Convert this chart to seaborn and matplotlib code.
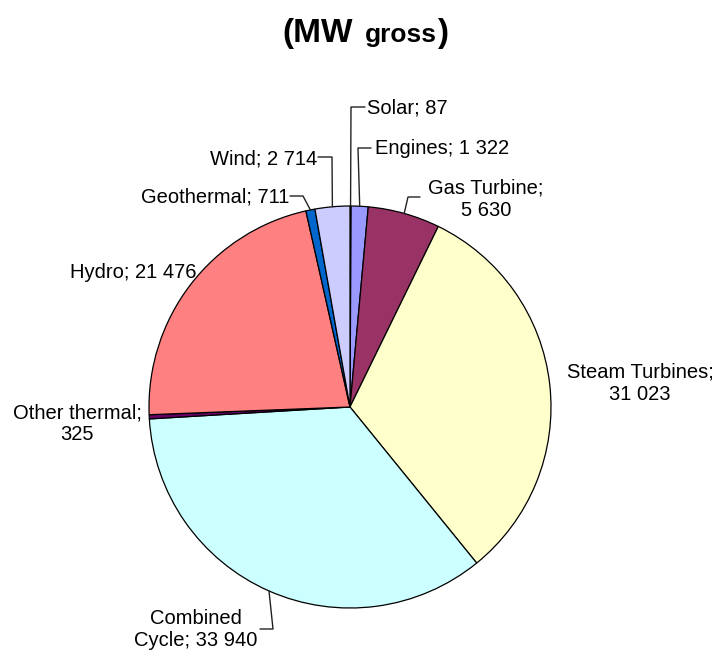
import numpy as np
import matplotlib
matplotlib.use("Agg")
import matplotlib.pyplot as plt
import seaborn as sns

# Datos (MW brutos), en el orden horario desde arriba
categories = ["Solar", "Engines", "Gas Turbine", "Steam Turbines", "Combined Cycle",
              "Other thermal", "Hydro", "Geothermal", "Wind"]
values = [87, 1322, 5630, 31023, 33940, 325, 21476, 711, 2714]
colors = ["#333399", "#9999FF", "#993366", "#FFFFCC", "#CCFFFF",
          "#660066", "#FF8080", "#0066CC", "#CCCCFF"]

# Texto de las etiquetas (con saltos de línea como en el original)
label_text = ["Solar; {}", "Engines; {}", "Gas Turbine;\n{}", "Steam Turbines;\n{}",
              "Combined\nCycle; {}", "Other thermal;\n{}", "Hydro; {}",
              "Geothermal; {}", "Wind; {}"]

# Posición de las etiquetas en píxeles (x, y, ha) y codo de la línea guía
label_pos = [(367, 108, "left"), (375, 148, "left"), (486, 199, "center"),
             (640, 383, "center"), (196, 630, "center"), (77, 424, "center"),
             (196, 272, "right"), (289, 197, "right"), (317, 159, "right")]
leader = [[(351, 107), (365, 107)], [(358, 148), (371, 148)], [(408, 197), (420, 197)],
          None, [(273, 629), (260, 629)], None, None,
          [(303, 196), (290, 196)], [(332, 157), (318, 157)]]

W, H = 719, 652
CX, CY, R = 350, 407, 201

sns.set_style("white")
plt.rcParams['font.family'] = ['Liberation Sans', 'DejaVu Sans']
plt.rcParams['text.color'] = 'black'

fig = plt.figure(figsize=(W / 100, H / 100), dpi=100)
ax = fig.add_axes([0, 0, 1, 1])

wedges, _ = ax.pie(values, colors=colors, radius=R, center=(CX, CY),
                   startangle=-90, counterclock=True, frame=False,
                   wedgeprops=dict(edgecolor="black", linewidth=0.9))
ax.set_xlim(0, W)
ax.set_ylim(H, 0)
ax.axis("off")

def fmt(v):
    return f"{v:,}".replace(",", " ")

for w, txt, pos, ld, v in zip(wedges, label_text, label_pos, leader, values):
    ang = np.deg2rad((w.theta1 + w.theta2) / 2)
    if ld is not None:
        ex, ey = CX + R * np.cos(ang), CY + R * np.sin(ang)
        xs = [ex] + [p[0] for p in ld]
        ys = [ey] + [p[1] for p in ld]
        ax.plot(xs, ys, color="#222222", lw=1)
    ax.text(pos[0], pos[1], txt.format(fmt(v)), ha=pos[2], va="center",
            fontsize=14.5, linespacing=1.2, multialignment="center", color="black")

# Título con tamaños mezclados
ax.text(282, 42, "(MW", fontsize=24, fontweight="bold", ha="left", va="baseline")
ax.text(365, 42, "gross", fontsize=19, fontweight="bold", ha="left", va="baseline")
ax.text(437, 42, ")", fontsize=24, fontweight="bold", ha="left", va="baseline")

fig.savefig("out.png", dpi=100)
